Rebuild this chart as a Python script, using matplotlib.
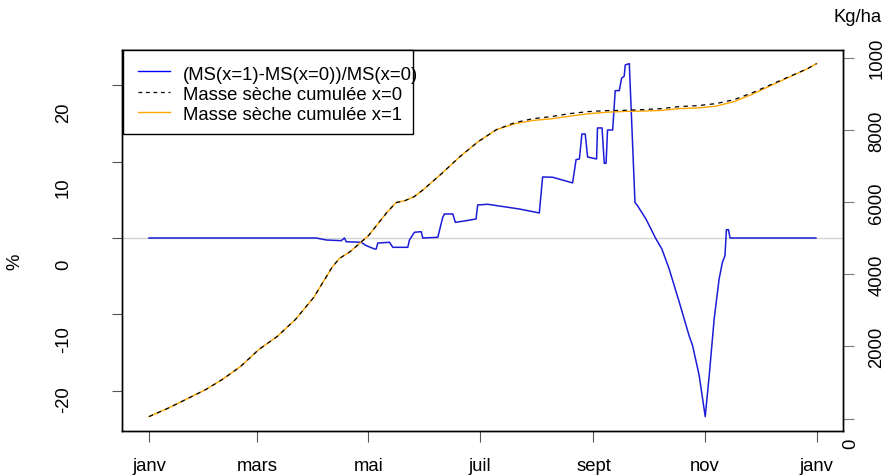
import numpy as np
import matplotlib.pyplot as plt
from matplotlib.transforms import ScaledTranslation
from matplotlib.patches import Rectangle
from matplotlib.lines import Line2D

plt.rcParams['font.family'] = ['Liberation Sans', 'DejaVu Sans']
FS = 13.3

# jour de l'annee -> masse seche cumulee (kg/ha)
cum_days = [0, 10, 20, 31, 40, 50, 60, 70, 80, 90, 100, 104, 110, 120, 130, 135,
            140, 145, 150, 160, 170, 180, 190, 200, 210, 220, 230, 240, 250, 260,
            270, 280, 290, 300, 310, 320, 330, 340, 350, 360, 365]
ms_x0 = [55, 277, 526, 803, 1080, 1440, 1911, 2271, 2742, 3352, 4183, 4432, 4626,
         5069, 5706, 5983, 6039, 6150, 6343, 6787, 7258, 7673, 8006, 8199, 8310,
         8366, 8449, 8504, 8532, 8540, 8560, 8587, 8643, 8670, 8726, 8837, 9030,
         9252, 9474, 9695, 9834]
ms_x1 = [55, 277, 526, 803, 1080, 1440, 1911, 2271, 2742, 3352, 4183, 4432, 4626,
         5069, 5706, 5983, 6039, 6150, 6343, 6787, 7258, 7673, 8006, 8169, 8260,
         8306, 8379, 8444, 8487, 8510, 8520, 8537, 8588, 8605, 8656, 8782, 8990,
         9227, 9459, 9690, 9834]

# ecart relatif (%)
rel_days = [0, 91.4, 96.9, 105.1, 106.9, 107.8, 116.0, 118.8, 123.3, 124.2, 125.1,
            131.5, 133.3, 141.5, 142.4, 145.1, 148.8, 149.7, 157.9, 160.6, 161.5,
            166.1, 167.5, 173.4, 178.8, 179.7, 185.2, 202.5, 213.4, 215.2, 220.7,
            231.6, 233.5, 235.3, 236.7, 238.5, 239.8, 244.7, 245.2, 247.7, 248.9,
            249.9, 250.7, 253.5, 254.9, 257.1, 258.4, 259.8, 260.4, 262.6, 265.7,
            267.1, 271.7, 277.2, 280.4, 284.4, 289.9, 295.3, 297.2, 300.8, 304.1,
            306.3, 309.0, 311.7, 313.5, 314.9, 315.7, 316.8, 317.7, 364.6]
rel_pct = [0, 0, -0.26, -0.35, 0, -0.49, -0.56, -1.0, -1.44, -1.44, -0.66,
           -0.56, -1.22, -1.22, -0.26, 0.75, 0.83, 0, 0.09, 2.71, 3.15,
           3.15, 2.05, 2.27, 2.49, 4.33, 4.42, 3.80, 3.28, 8.0, 7.96,
           7.22, 10.27, 10.36, 13.63, 13.63, 10.61, 10.36, 14.42, 14.42, 9.79,
           9.79, 14.15, 14.15, 19.31, 19.31, 20.94, 21.2, 22.68, 22.85, 4.67,
           4.23, 2.49, -0.13, -1.44, -4.06, -8.39, -12.81, -14.1, -18.0, -23.4,
           -18.0, -10.6, -5.37, -3.2, -2.32, 1.09, 1.09, 0, 0]

month_ticks = [0, 59, 120, 181, 243, 304, 365]
month_labels = ['janv', 'mars', 'mai', 'juil', 'sept', 'nov', 'janv']
pct_ticks = [-20, -10, 0, 10, 20]
kg_ticks = [0, 2000, 4000, 6000, 8000, 10000]
kg_labels = ['0', '2000', '4000', '6000', '8000', '1000']


def r_range(lo, hi):
    # etendue a la R : 4 % de chaque cote
    d = 0.04 * (hi - lo)
    return lo - d, hi + d


W, H = 885, 477
fig = plt.figure(figsize=(W / 100, H / 100), dpi=100)
ax = fig.add_axes([122.3 / W, 1 - 431.7 / H, 721 / W, 381.2 / H])
ax2 = ax.twinx()

ax.axhline(0, color='lightgray', lw=1, zorder=1)
ax.plot(rel_days, rel_pct, color='#1c1cd8', lw=1.1, zorder=2)
ax2.plot(cum_days, ms_x1, color='orange', lw=1)
ax2.plot(cum_days, ms_x0, color='black', lw=0.9, ls=(0, (3.5, 3.5)))

ax.set_xlim(r_range(min(cum_days), max(cum_days)))
ax.set_ylim(r_range(min(rel_pct), max(rel_pct)))
ax2.set_ylim(r_range(min(ms_x0), max(ms_x0)))

for s in ax.spines.values():
    s.set_linewidth(1)
for s in ax2.spines.values():
    s.set_linewidth(1)

# axe des x
ax.set_xticks(month_ticks, month_labels, fontsize=FS)
ax.tick_params(axis='x', length=8, width=0.8, color='#555555', pad=11)

# axe gauche (%)
ax.set_yticks(pct_ticks, [str(v) for v in pct_ticks], fontsize=FS,
              rotation=90, va='center', ha='center')
ax.tick_params(axis='y', length=7.5, width=0.8, color='#555555', pad=35)
left_shift = [8, 24, 26, 25, 26]
for lab, dy in zip(ax.get_yticklabels(), left_shift):
    lab.set_transform(lab.get_transform() +
                      ScaledTranslation(0, -dy / 100, fig.dpi_scale_trans))

# axe droit (kg/ha)
ax2.set_yticks(kg_ticks, kg_labels, fontsize=FS,
               rotation=90, va='center', ha='center')
ax2.tick_params(axis='y', length=8, width=0.8, color='#777777', pad=16)
right_shift = [24, 0, 0, 0, 0, 0]
for lab, dy, dx in zip(ax2.get_yticklabels(), right_shift, [-26, 0, 0, 0, 0, 0]):
    lab.set_transform(lab.get_transform() +
                      ScaledTranslation(dx / 100, -dy / 100, fig.dpi_scale_trans))

fig.text(15 / W, 1 - 262 / H, '%', fontsize=FS, rotation=90, ha='center', va='center')
fig.text(858 / W, 1 - 18 / H, 'Kg/ha', fontsize=FS, ha='center', va='center')

# legende
fig.patches.append(Rectangle((123 / W, 1 - 135 / H), 290 / W, 84 / H,
                             transform=fig.transFigure, facecolor='white',
                             edgecolor='black', lw=1, zorder=5))
leg_items = [('(MS(x=1)-MS(x=0))/MS(x=0)', dict(color='blue', lw=1)),
             ('Masse sèche cumulée x=0', dict(color='black', lw=0.9, ls=(0, (3, 3)))),
             ('Masse sèche cumulée x=1', dict(color='orange', lw=1))]
for i, (txt, style) in enumerate(leg_items):
    y = 72 + 20.5 * i
    fig.lines.append(Line2D([138 / W, 170 / W], [1 - y / H, 1 - y / H],
                            transform=fig.transFigure, zorder=6, **style))
    fig.text(183 / W, 1 - (y + 7.5) / H, txt, fontsize=FS, va='baseline',
             ha='left', zorder=6)

fig.savefig('out.png', dpi=100)
